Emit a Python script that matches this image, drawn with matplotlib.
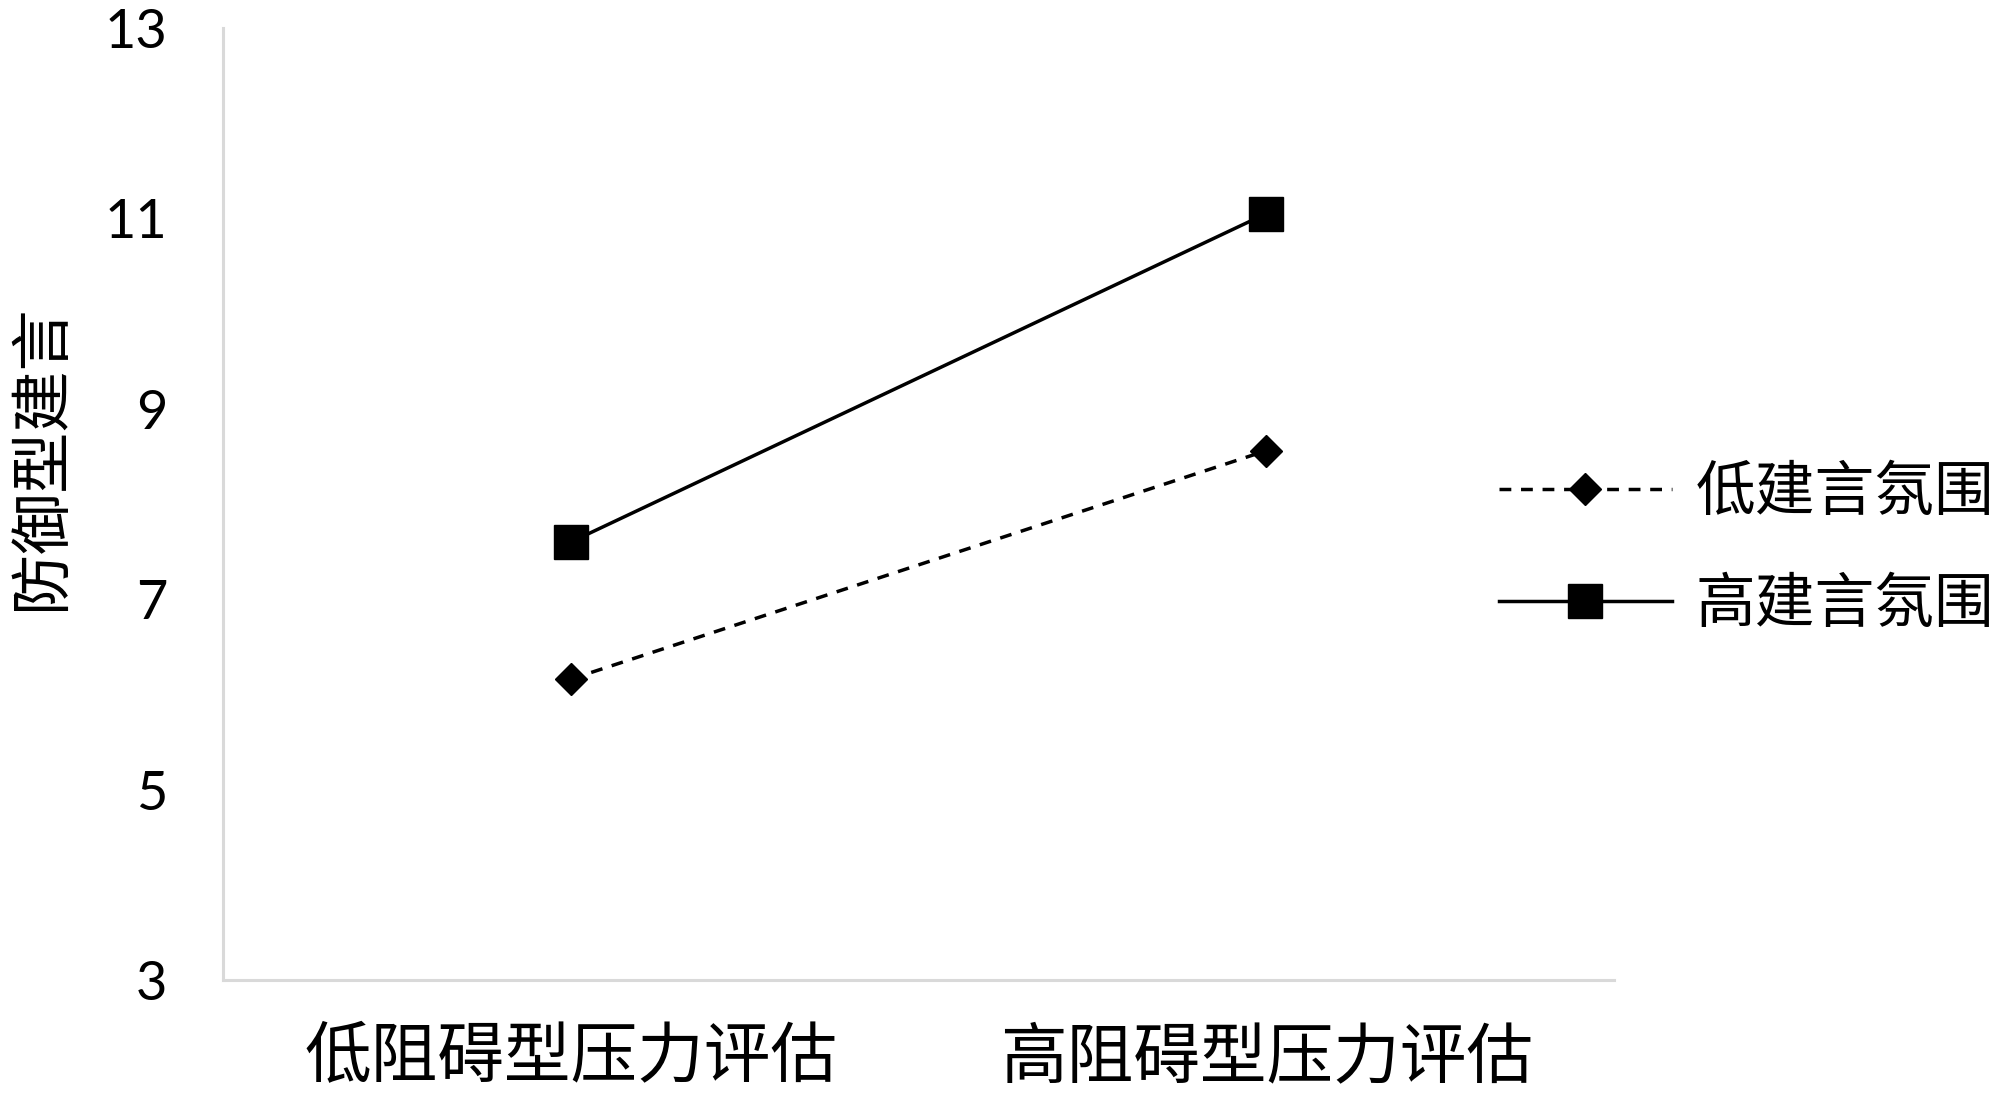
import matplotlib
matplotlib.use('Agg')
import matplotlib.pyplot as plt

# data
categories = ['低阻碍型压力评估', '高阻碍型压力评估']
series_names = ['低建言氛围', '高建言氛围']
low_climate = [6.16, 8.56]
high_climate = [7.60, 11.05]
y_ticks = [3, 5, 7, 9, 11, 13]

cjk = ['Noto Sans CJK SC', 'DejaVu Sans']

fig = plt.figure(figsize=(20, 10.96), dpi=100)
ax = fig.add_axes([0.1115, 0.1058, 0.6955, 0.8687])

x = list(range(len(categories)))
ax.plot(x, low_climate, color='black', lw=2.5, dashes=(3.4, 2.8),
        marker='D', markersize=16.8, label=series_names[0])
ax.plot(x, high_climate, color='black', lw=2.5, linestyle='-',
        marker='s', markersize=23.8, label=series_names[1])

## axes
ax.set_xlim(-0.5, 1.5)
ax.set_ylim(3, 13)
ax.set_yticks(y_ticks)
ax.set_yticklabels([str(v) for v in y_ticks], family='Lato', fontsize=39)
ax.set_xticks(x)
ax.set_xticklabels(categories, family=cjk, fontsize=48)
ax.tick_params(axis='y', length=0, pad=40)
ax.tick_params(axis='x', length=0, pad=32)

for s in ['top', 'right']:
    ax.spines[s].set_visible(False)
for s in ['left', 'bottom']:
    ax.spines[s].set_color('#d9d9d9')
    ax.spines[s].set_linewidth(2.2)

## y label
fig.text(0.021, 0.583, '防御型建言', rotation=90, ha='center', va='center',
         family=cjk, fontsize=44)

## legend
leg = ax.legend(loc='center left', bbox_to_anchor=(0.917, 0.452), frameon=False,
                prop={'family': cjk, 'size': 43}, handlelength=2.9,
                handletextpad=0.4, labelspacing=0.85, borderaxespad=0,
                borderpad=0)

fig.savefig('out.png', dpi=100)
